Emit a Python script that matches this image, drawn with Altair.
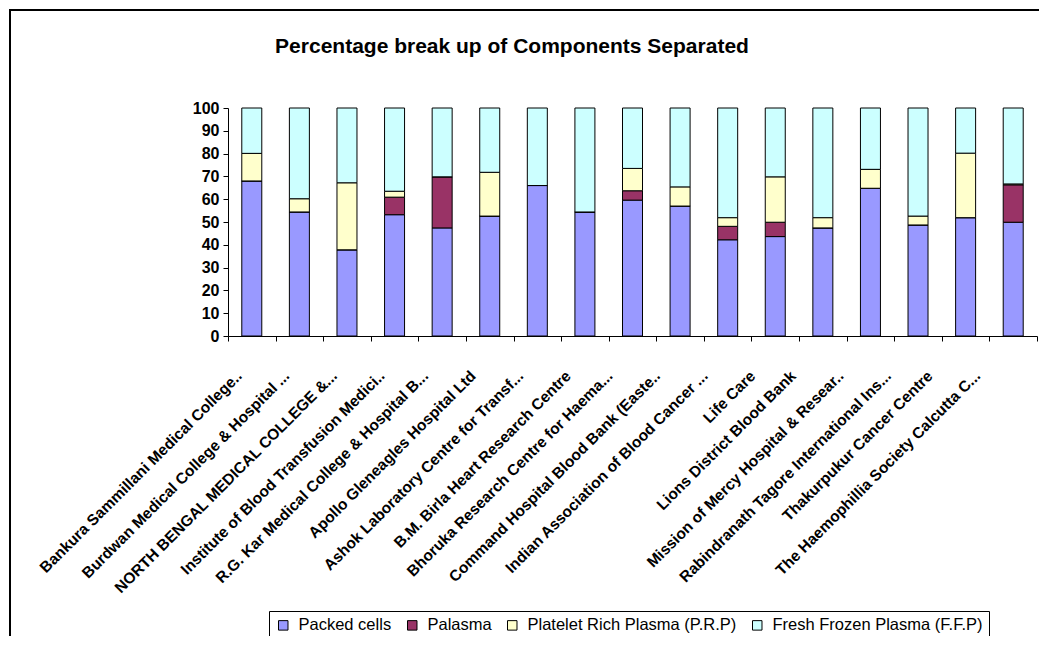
import altair as alt
import pandas as pd

categories = [
    "Bankura Sammillani Medical College..",
    "Burdwan Medical College & Hospital ...",
    "NORTH BENGAL MEDICAL COLLEGE &...",
    "Institute of Blood Transfusion Medici..",
    "R.G. Kar Medical College & Hospital B...",
    "Apollo Gleneagles Hospital Ltd",
    "Ashok Laboratory Centre for Transf...",
    "B.M. Birla Heart Research Centre",
    "Bhoruka Research Centre for Haema...",
    "Command Hospital Blood Bank (Easte..",
    "Indian Association of Blood Cancer ...",
    "Life Care",
    "Lions District Blood Bank",
    "Mission of Mercy Hospital & Resear..",
    "Rabindranath Tagore International Ins...",
    "Thakurpukur Cancer Centre",
    "The Haemophillia Society Calcutta C...",
]

series = ["Packed cells", "Palasma", "Platelet Rich Plasma (P.R.P)", "Fresh Frozen Plasma (F.F.P)"]
colors = ["#9999FF", "#993366", "#FFFFCC", "#CCFFFF"]
title_text = "Percentage break up of Components Separated"

packed_cells = [68.0, 54.4, 37.8, 53.2, 47.4, 52.6, 66.0, 54.4, 59.6, 57.0, 42.2, 43.6, 47.4, 64.8, 48.7, 51.9, 49.9]
palasma      = [0.0, 0.0, 0.0, 7.7, 22.4, 0.0, 0.0, 0.0, 4.1, 0.0, 5.9, 6.3, 0.0, 0.0, 0.0, 0.0, 16.4]
prp          = [12.1, 5.8, 29.4, 2.6, 0.0, 19.2, 0.0, 0.0, 9.8, 8.4, 3.8, 19.9, 4.5, 8.3, 3.9, 28.3, 0.4]
ffp = [round(100 - a - b - c, 1) for a, b, c in zip(packed_cells, palasma, prp)]

rows = []
for i, cat in enumerate(categories):
    for k, (name, vals) in enumerate(zip(series, [packed_cells, palasma, prp, ffp])):
        rows.append({"Bank": cat, "Component": name, "Value": vals[i], "order": k})
df = pd.DataFrame(rows)

FONT = "Liberation Sans"

label_offset = {
    "condition": [
        {"test": "datum.index < 0.24", "value": -13},
        {"test": "datum.index < 0.49", "value": -17},
        {"test": "datum.index < 0.74", "value": -23},
        {"test": "datum.index < 0.9", "value": -30},
    ],
    "value": -36,
}

bars = alt.Chart(df).mark_bar(size=20, stroke="black", strokeWidth=1).encode(
    x=alt.X("Bank:N", sort=categories,
            scale=alt.Scale(paddingInner=0, paddingOuter=0),
            axis=alt.Axis(title=None, labelAngle=-45, labelAlign="right", labelBaseline="middle",
                          labelFont=FONT, labelFontSize=15.5, labelFontWeight="bold", labelColor="black",
                          labelLimit=0, labelPadding=32, labelOffset=label_offset,
                          tickBand="extent", tickColor="black", tickSize=5,
                          domainColor="black", domainWidth=1)),
    y=alt.Y("Value:Q", stack="zero",
            scale=alt.Scale(domain=[0, 100], nice=False),
            axis=alt.Axis(title=None, values=list(range(0, 101, 10)), labelFont=FONT, labelFontSize=16,
                          labelFontWeight="bold", labelColor="black", tickColor="black", tickSize=5,
                          domainColor="black", labelPadding=4, grid=False)),
    color=alt.Color("Component:N", sort=series,
                    scale=alt.Scale(domain=series, range=colors),
                    legend=alt.Legend(orient="none", legendX=41, legendY=503, direction="horizontal",
                                      title=None, symbolType="square", symbolSize=90,
                                      symbolStrokeColor="black", symbolStrokeWidth=1,
                                      labelFont=FONT, labelFontSize=16.5, labelColor="black",
                                      labelLimit=0, strokeColor="black", fillColor="white", padding=6,
                                      columnPadding=12, labelOffset=7, columns=4)),
    order=alt.Order("order:Q"),
)

frame = alt.Chart(alt.Data(values=[{"a": 1}])).mark_rect(
    fill=None, stroke="black", strokeWidth=2
).encode(
    x=alt.value(-218), x2=alt.value(860), y=alt.value(-98), y2=alt.value(600)
)

title = alt.Chart(alt.Data(values=[{"a": 1}])).mark_text(
    font=FONT, fontSize=21, fontWeight="bold", color="black", align="center", baseline="alphabetic"
).encode(
    x=alt.value(284), y=alt.value(-55), text=alt.value(title_text)
)

chart = alt.layer(frame, title, bars).properties(
    width=809, height=228,
    autosize=alt.AutoSizeParams(type="none"),
    padding={"left": 220, "top": 100, "right": 2, "bottom": 300},
).configure_view(stroke=None)

chart.save("out.html", embed_options={"renderer": "svg", "actions": False})
